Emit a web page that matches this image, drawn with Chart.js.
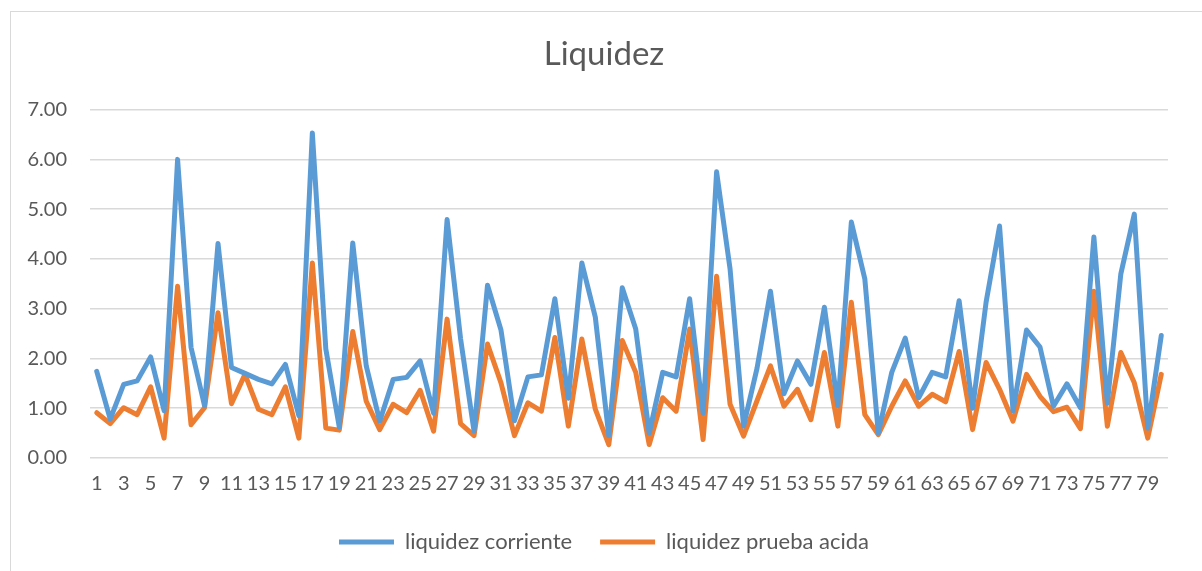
<!DOCTYPE html>
<html>
<head>
<meta charset="utf-8">
<script src="https://cdn.jsdelivr.net/npm/chart.js@4"></script>
<style>
  html, body { margin: 0; padding: 0; background: #fff; }
  #wrap { position: relative; width: 1202px; height: 571px; overflow: hidden; }
  #frame { position: absolute; left: 10px; top: 11px; width: 1300px; height: 700px; border: 1px solid #d9d9d9; box-sizing: border-box; }
  #chart { position: absolute; left: 0; top: 0; }
</style>
</head>
<body>
<div id="wrap">
  <div id="frame"></div>
  <canvas id="chart" width="1202" height="571"></canvas>
</div>
<script>
// periodos 1..80
const periodos = Array.from({ length: 80 }, (_, i) => String(i + 1));

const liquidezCorriente = [
  1.74, 0.78, 1.48, 1.55, 2.03, 0.95, 6.00, 2.22, 1.05, 4.31,
  1.82, 1.70, 1.58, 1.49, 1.88, 0.85, 6.53, 2.19, 0.62, 4.32,
  1.85, 0.74, 1.58, 1.62, 1.95, 0.90, 4.79, 2.40, 0.54, 3.47,
  2.57, 0.75, 1.63, 1.67, 3.20, 1.20, 3.92, 2.83, 0.45, 3.42,
  2.59, 0.50, 1.72, 1.63, 3.20, 0.90, 5.75, 3.80, 0.64, 1.80,
  3.35, 1.29, 1.95, 1.48, 3.03, 1.05, 4.74, 3.60, 0.50, 1.72,
  2.41, 1.21, 1.72, 1.63, 3.16, 1.00, 3.13, 4.66, 0.95, 2.57,
  2.23, 1.04, 1.49, 1.01, 4.44, 1.10, 3.70, 4.90, 0.60, 2.46
];

const liquidezPruebaAcida = [
  0.91, 0.69, 1.01, 0.87, 1.43, 0.40, 3.45, 0.67, 1.01, 2.92,
  1.09, 1.68, 0.98, 0.87, 1.43, 0.40, 3.92, 0.60, 0.56, 2.54,
  1.14, 0.57, 1.08, 0.91, 1.36, 0.54, 2.79, 0.69, 0.45, 2.29,
  1.51, 0.45, 1.11, 0.94, 2.42, 0.64, 2.39, 0.98, 0.27, 2.36,
  1.72, 0.27, 1.21, 0.94, 2.59, 0.37, 3.65, 1.08, 0.44, 1.15,
  1.85, 1.04, 1.38, 0.77, 2.12, 0.64, 3.13, 0.87, 0.47, 1.04,
  1.55, 1.04, 1.28, 1.13, 2.14, 0.57, 1.92, 1.38, 0.74, 1.68,
  1.24, 0.93, 1.02, 0.59, 3.35, 0.64, 2.12, 1.51, 0.40, 1.68
];

const yTicks = [0, 1, 2, 3, 4, 5, 6, 7];

const textColor = '#595959';
const gridColor = '#d9d9d9';

const ctx = document.getElementById('chart').getContext('2d');
new Chart(ctx, {
  type: 'line',
  data: {
    labels: periodos,
    datasets: [
      {
        label: 'liquidez corriente',
        data: liquidezCorriente,
        borderColor: '#5b9bd5',
        backgroundColor: '#5b9bd5',
        borderWidth: 5,
        borderCapStyle: 'round',
        borderJoinStyle: 'round',
        pointRadius: 0,
        tension: 0
      },
      {
        label: 'liquidez prueba acida',
        data: liquidezPruebaAcida,
        borderColor: '#ed7d31',
        backgroundColor: '#ed7d31',
        borderWidth: 5,
        borderCapStyle: 'round',
        borderJoinStyle: 'round',
        pointRadius: 0,
        tension: 0
      }
    ]
  },
  options: {
    responsive: false,
    animation: false,
    layout: { padding: { left: 22, right: 16, top: 0, bottom: 8 } },
    plugins: {
      title: {
        display: true,
        text: 'Liquidez',
        color: textColor,
        font: { family: 'Lato', size: 33, weight: 'normal' },
        padding: { top: 35, bottom: 35 }
      },
      legend: {
        position: 'bottom',
        labels: {
          color: textColor,
          font: { family: 'Lato', size: 22 },
          usePointStyle: true,
          pointStyle: 'line',
          pointStyleWidth: 55,
          padding: 28
        }
      },
      tooltip: { enabled: false }
    },
    scales: {
      x: {
        offset: true,
        grid: { display: false, drawTicks: false },
        border: { display: false },
        afterFit: function (axis) { axis.height -= 7; },
        ticks: {
          color: textColor,
          font: { family: 'Lato', size: 20 },
          autoSkip: false,
          maxRotation: 0,
          padding: 14,
          callback: function (val, i) { return i % 2 === 0 ? periodos[i] : ''; }
        }
      },
      y: {
        min: 0,
        max: 7,
        afterBuildTicks: function (axis) { axis.ticks = yTicks.map(v => ({ value: v })); },
        afterFit: function (axis) { axis.width = 68; },
        grid: { color: gridColor, lineWidth: 1.5, drawTicks: false },
        border: { display: false },
        ticks: {
          color: textColor,
          font: { family: 'Lato', size: 20 },
          padding: 23,
          callback: v => Number(v).toFixed(2)
        }
      },
      // espacio vacio a la derecha para centrar titulo y leyenda
      espacio: {
        type: 'linear',
        position: 'right',
        grid: { display: false, drawTicks: false },
        border: { display: false },
        ticks: { display: false },
        afterFit: function (axis) { axis.width = 18; }
      }
    }
  }
});
</script>
</body>
</html>
